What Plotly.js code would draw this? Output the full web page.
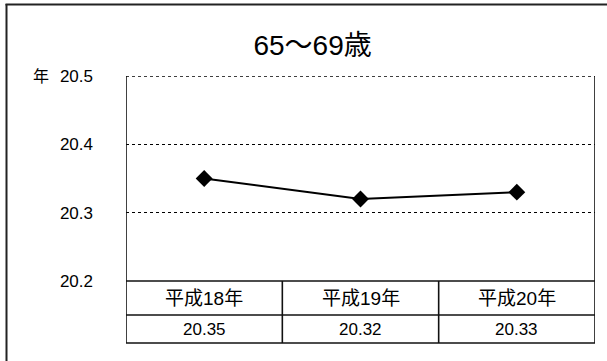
<!DOCTYPE html>
<html>
<head>
<meta charset="utf-8">
<script src="https://cdn.plot.ly/plotly-3.0.1.min.js"></script>
<style>html,body{margin:0;padding:0;background:#fff;}#chart{width:607px;height:361px;}</style>
</head>
<body>
<div id="chart"></div>
<script>
const categories = ["平成18年", "平成19年", "平成20年"];
const values = [20.35, 20.32, 20.33];
const valueLabels = ["20.35", "20.32", "20.33"];
const yTicks = [20.2, 20.3, 20.4, 20.5];
const yTickText = ["20.2", "20.3", "20.4", "20.5"];
const titleText = "65〜69歳";
const unitText = "年";

const FONT = "'Liberation Sans', Arial, 'Noto Sans CJK JP', sans-serif";
const W = 607, H = 361;
const M = {l: 126, r: 12, t: 76, b: 80};
const plotH = H - M.t - M.b, plotW = W - M.l - M.r;
const rowH1 = 34, rowH2 = 28;
const yRow1 = -rowH1 / plotH;
const yRow2 = -(rowH1 + rowH2) / plotH;
const xIdx = categories.map((_, i) => i);

const lineStyle = {color: '#111', width: 1.6};
const shapes = [];
// top dotted gridline at the upper range edge
shapes.push({type: 'line', xref: 'x', yref: 'y', x0: -0.5, x1: categories.length - 0.5,
  y0: yTicks[yTicks.length - 1], y1: yTicks[yTicks.length - 1], line: {color: '#000', width: 1.5, dash: 'dot'}});
// plot left/right edges extended through table
[-0.5, categories.length - 0.5].forEach(x => {
  shapes.push({type: 'line', xref: 'x', yref: 'paper', x0: x, x1: x, y0: 1, y1: yRow2, line: lineStyle});
});
// inner column separators in the table
for (let i = 1; i < categories.length; i++) {
  shapes.push({type: 'line', xref: 'x', yref: 'paper', x0: i - 0.5, x1: i - 0.5, y0: 0, y1: yRow2, line: lineStyle});
}
// table horizontal lines
[0, yRow1, yRow2].forEach(y => {
  shapes.push({type: 'line', xref: 'x', yref: 'paper', x0: -0.5, x1: categories.length - 0.5, y0: y, y1: y, line: lineStyle});
});
// outer frame (left and top only, cut at the image edges)
const pxX = px => (px - M.l) / plotW;
const pxY = py => (H - M.b - py) / plotH;
shapes.push({type: 'line', xref: 'paper', yref: 'paper', x0: pxX(6.5), x1: pxX(6.5), y0: pxY(4), y1: pxY(365), line: {color: '#222', width: 2}});
shapes.push({type: 'line', xref: 'paper', yref: 'paper', x0: pxX(5.5), x1: pxX(612), y0: pxY(4.5), y1: pxY(4.5), line: {color: '#222', width: 2}});

const annotations = [];
categories.forEach((c, i) => {
  annotations.push({xref: 'x', yref: 'paper', x: i, y: yRow1 / 2, text: c, showarrow: false,
    xanchor: 'center', yanchor: 'middle', font: {family: FONT, size: 19, color: '#000'}});
  annotations.push({xref: 'x', yref: 'paper', x: i, y: (yRow1 + yRow2) / 2, text: valueLabels[i], showarrow: false,
    xanchor: 'center', yanchor: 'middle', font: {family: FONT, size: 17, color: '#000'}});
});
annotations.push({xref: 'paper', yref: 'y', x: pxX(41), y: yTicks[yTicks.length - 1], text: unitText, showarrow: false,
  xanchor: 'center', yanchor: 'middle', font: {family: FONT, size: 16, color: '#000'}});

const trace = {
  x: xIdx, y: values, type: 'scatter', mode: 'lines+markers',
  line: {color: '#000', width: 2},
  marker: {symbol: 'diamond', size: 13, color: '#000'},
  hoverinfo: 'none'
};

const layout = {
  width: W, height: H,
  margin: M,
  paper_bgcolor: '#fff', plot_bgcolor: '#fff',
  showlegend: false,
  title: {text: titleText, x: 0.515, xanchor: 'center', y: 1 - 45 / H, yanchor: 'middle',
    font: {family: FONT, size: 28, color: '#000'}},
  xaxis: {range: [-0.5, categories.length - 0.5], showgrid: false, zeroline: false, showticklabels: false,
    ticks: '', showline: false, fixedrange: true},
  yaxis: {range: [20.2, 20.5], tickvals: yTicks, ticktext: yTickText, showgrid: true,
    gridcolor: '#000', gridwidth: 1.5, griddash: 'dot', zeroline: false, showline: false, ticks: '',
    ticklabelstandoff: 32, tickfont: {family: FONT, size: 17, color: '#000'}, fixedrange: true},
  shapes: shapes,
  annotations: annotations
};

Plotly.newPlot('chart', [trace], layout, {displayModeBar: false, staticPlot: true});
</script>
</body>
</html>
